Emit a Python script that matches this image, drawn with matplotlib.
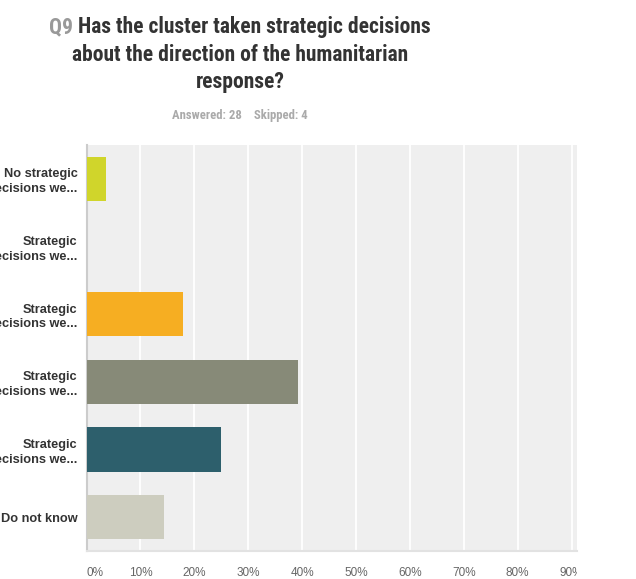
import matplotlib.pyplot as plt
from matplotlib.transforms import Bbox, TransformedBbox

categories = [
    "No strategic\ndecisions we...",
    "Strategic\ndecisions we...",
    "Strategic\ndecisions we...",
    "Strategic\ndecisions we...",
    "Strategic\ndecisions we...",
    "Do not know",
]
responses = [1, 0, 5, 11, 7, 4]
answered = 28
skipped = 4
shares = [r / answered for r in responses]
colors = ["#d0d52b", "#f6ae22", "#f6ae22", "#878a78", "#2d5f6c", "#cdcdbf"]
ticks = [0, 0.1, 0.2, 0.3, 0.4, 0.5, 0.6, 0.7, 0.8, 0.9]
tick_labels = ["0%", "10%", "20%", "30%", "40%", "50%", "60%", "70%", "80%", "90%"]

W, H = 636, 579
fig = plt.figure(figsize=(W / 100, H / 100), dpi=100)
fig.patch.set_facecolor("white")

narrow = ["Roboto Condensed", "Archivo Narrow", "Liberation Sans", "DejaVu Sans"]
sans = ["Liberation Sans", "DejaVu Sans"]

ax = fig.add_axes([86.5 / W, 1 - 551 / H, (577 - 86.5) / W, (551 - 145) / H])
ax.set_facecolor("#efefef")
ypos = list(range(len(categories)))
ax.barh(ypos, shares, height=0.66, color=colors, zorder=3)
ax.set_ylim(len(categories) - 0.5, -0.5)
ax.set_xlim(0, (577 - 86.5) / 539)
ax.set_xticks(ticks)
ax.set_xticklabels(tick_labels, family=sans, fontsize=8.5, color="#666666")
ax.get_xticklabels()[0].set_horizontalalignment("left")
ax.set_yticks(ypos)
ax.set_yticklabels(categories, family=sans, fontsize=9.2, fontweight="bold",
                   color="#333333", linespacing=1.3)
ax.tick_params(axis="both", length=0)
ax.tick_params(axis="y", pad=6.5)
ax.tick_params(axis="x", pad=11.5)
ax.grid(axis="x", color="white", linewidth=1.3, zorder=1)
for side in ("top", "right"):
    ax.spines[side].set_visible(False)
ax.spines["left"].set_color("#cccccc")
ax.spines["left"].set_linewidth(1.5)
ax.spines["bottom"].set_color("#e2e2e2")
ax.spines["bottom"].set_linewidth(1.5)

# the chart is cut off on the right edge, so the last label is clipped
clip = TransformedBbox(Bbox([[0, 0], [577 / W, 1]]), fig.transFigure)
last = ax.get_xticklabels()[-1]
last.set_clip_box(clip)
last.set_clip_on(True)

# title, first line has a grey question number
fig.canvas.draw()
r = fig.canvas.get_renderer()
title_kw = dict(family=narrow, fontsize=15.5, fontweight="bold", va="baseline")
q = fig.text(0, 1 - 33.5 / H, "Q9 ", color="#999999", **title_kw)
t1 = fig.text(0, 1 - 33.5 / H, "Has the cluster taken strategic decisions",
              color="#333333", **title_kw)
wq = q.get_window_extent(r).width
w1 = t1.get_window_extent(r).width
x0 = 240 - (wq + w1) / 2
q.set_x(x0 / W)
t1.set_x((x0 + wq) / W)
fig.text(240 / W, 1 - 61 / H, "about the direction of the humanitarian",
         color="#333333", ha="center", **title_kw)
fig.text(240 / W, 1 - 88 / H, "response?", color="#333333", ha="center", **title_kw)
fig.text(240 / W, 1 - 119 / H, f"Answered: {answered}    Skipped: {skipped}",
         family=narrow, fontsize=9.2, fontweight="bold", color="#aaaaaa",
         ha="center", va="baseline")

fig.savefig("out.png", dpi=100, facecolor="white")
